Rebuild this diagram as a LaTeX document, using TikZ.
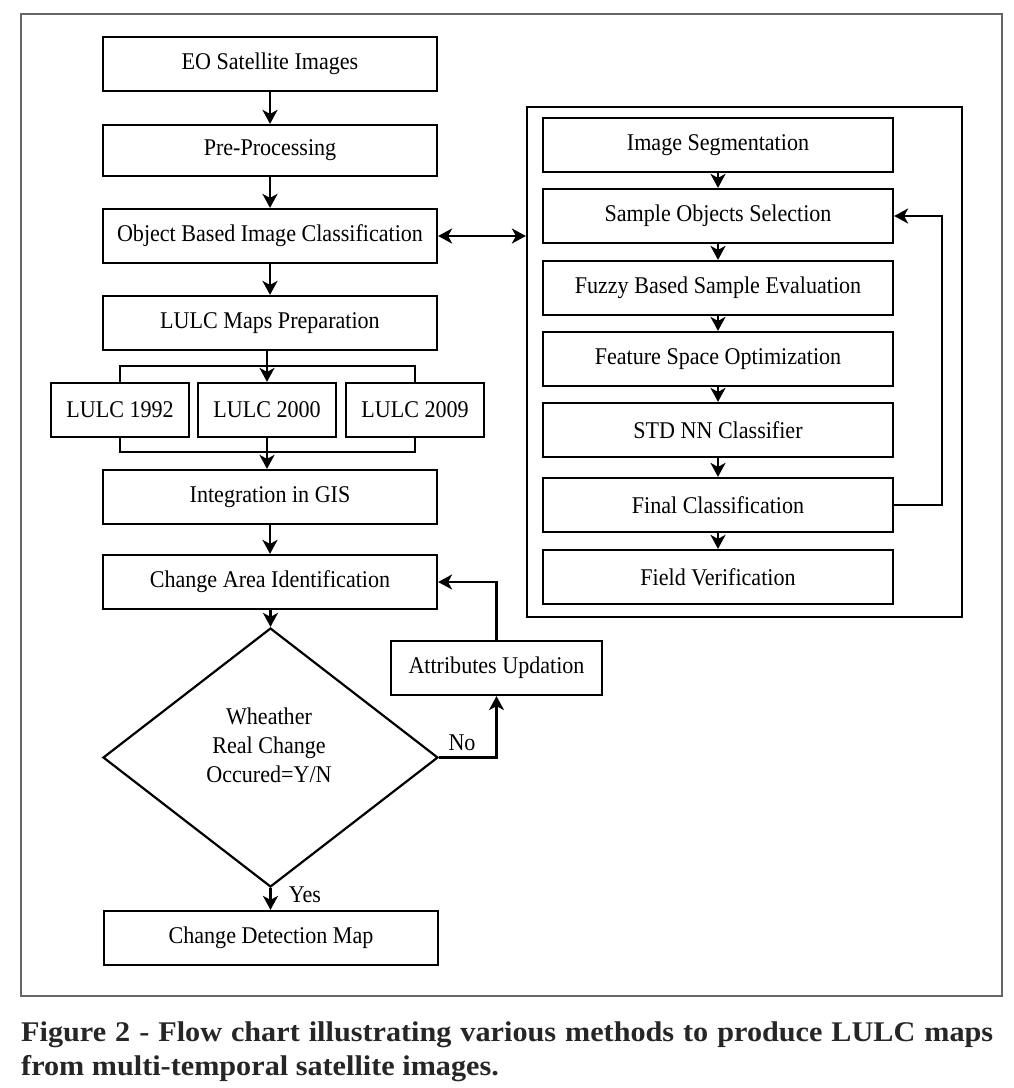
\documentclass[tikz,border=0pt]{standalone}
\usepackage{fontspec}
\setmainfont{Liberation Serif}
\newfontfamily\capfont{Liberation Serif}[FakeStretch=1.06]
\newfontfamily\boxfont{Liberation Serif}[FakeStretch=0.92]
\usetikzlibrary{arrows.meta,shapes.geometric}

\begin{document}
\begin{tikzpicture}[x=1pt,y=-1pt,
  box/.style={draw, line width=2.2pt, minimum height=54pt, inner sep=0pt, font=\boxfont\fontsize{24}{29}\selectfont},
  lbox/.style={box, minimum width=334pt},
  rbox/.style={box, minimum width=350pt},
  ybox/.style={box, minimum width=138pt},
  tip/.tip={Stealth[length=14pt,width=15pt,inset=4pt]},
  conn/.style={line width=2.3pt, -tip},
  plain/.style={line width=2.3pt},
  lbl/.style={font=\boxfont\fontsize{24}{29}\selectfont, inner sep=0pt},
  capt/.style={anchor=base west, inner sep=0pt, font=\capfont\bfseries\fontsize{28.5}{34}\selectfont, text=black!85}]
\useasboundingbox (0,0) rectangle (1014,1088);
\draw[line width=1.5pt, black!60] (21,14) rectangle (1002,996);

% left column
\node[lbox] (eo) at (270,64) {EO Satellite Images};
\node[lbox, minimum height=51pt] (pre) at (270,150.5) {Pre-Processing};
\node[lbox] (obc) at (270,236) {Object Based Image Classification};
\node[lbox] (lulc) at (270,323) {LULC Maps Preparation};
\node[ybox] (y92) at (120,410) {LULC 1992};
\node[ybox] (y00) at (267,410) {LULC 2000};
\node[ybox] (y09) at (415,410) {LULC 2009};
\node[lbox] (gis) at (270,497) {Integration in GIS};
\node[lbox] (cai) at (270,582) {Change Area Identification};
\node[draw, diamond, line width=2.2pt, minimum width=335pt, minimum height=259pt, inner sep=0pt] (dec) at (270.5,757.5) {};
\node[lbl, align=center] (dtext) at (269,745) {Wheather\\Real Change\\Occured=Y/N};
\node[lbox] (cdm) at (271,938) {Change Detection Map};
\node[box, minimum width=211pt] (att) at (496.5,668) {Attributes Updation};
\node[lbl] (no) at (462,742.5) {No};
\node[lbl] (yes) at (305,894.5) {Yes};

% right group
\node[draw, line width=2.2pt, minimum width=435pt, minimum height=510pt, inner sep=0pt] (grp) at (744.5,362) {};
\node[rbox] (seg) at (718,145) {Image Segmentation};
\node[rbox] (sos) at (718,216) {Sample Objects Selection};
\node[rbox] (fbs) at (718,288) {Fuzzy Based Sample Evaluation};
\node[rbox] (fso) at (718,359) {Feature Space Optimization};
\node[rbox] (std) at (718,430) {STD NN Classifier};
\node[rbox] (fin) at (718,505) {Final Classification};
\node[rbox] (fv) at (718,577) {Field Verification};

% caption
\node[capt] (cap1) at (21,1041) {\makebox[972pt][s]{Figure 2 - Flow chart illustrating various methods to produce LULC maps}};
\node[capt] (cap2) at (21,1075) {from multi-temporal satellite images.};

% connectors left
\draw[conn] (eo.south) -- (eo.south |- pre.north);
\draw[conn] (pre.south) -- (pre.south |- obc.north);
\draw[conn] (obc.south) -- (obc.south |- lulc.north);
\coordinate (bt) at (268,366);
\coordinate (bb) at (268,452);
\draw[conn] (lulc.south -| y00.north) -- (y00.north);
\draw[plain] (y92.north) -- (y92.north |- bt) -- (y09.north |- bt) -- (y09.north);
\draw[plain] (y92.south) -- (y92.south |- bb) -- (y09.south |- bb) -- (y09.south);
\draw[conn] (y00.south) -- (y00.south |- gis.north);
\draw[conn] (gis.south) -- (gis.south |- cai.north);
\draw[conn] (cai.south -| dec.north) -- (dec.north);
\draw[conn] (dec.south) -- (dec.south |- cdm.north);
\draw[conn] (dec.east) -| (att.south);
\draw[conn] (att.north) |- (cai.east);
\draw[plain, tip-tip] (obc.east) -- (obc.east -| grp.west);

% connectors right
\draw[conn] (seg.south) -- (sos.north);
\draw[conn] (sos.south) -- (fbs.north);
\draw[conn] (fbs.south) -- (fso.north);
\draw[conn] (fso.south) -- (std.north);
\draw[conn] (std.south) -- (fin.north);
\draw[conn] (fin.south) -- (fv.north);
\coordinate (fb) at (942,505);
\draw[conn] (fin.east) -- (fb) |- (sos.east);
\end{tikzpicture}
\end{document}
